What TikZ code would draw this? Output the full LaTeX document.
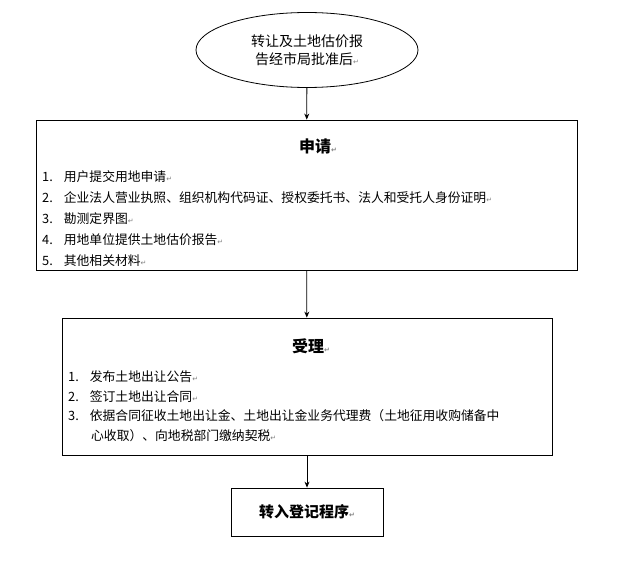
\documentclass[tikz,border=0pt]{standalone}
\usepackage{fontspec}
\setmainfont{Noto Sans CJK SC}
\newfontfamily\symfont{DejaVu Sans}
\usetikzlibrary{shapes.geometric,arrows.meta}
\newcommand{\pmark}{{\symfont\color{gray}\fontsize{7}{7}\selectfont ↵}}
\tikzset{
  stepbox/.style={draw,thick,inner sep=0pt},
  item/.style={anchor=west,inner sep=0pt,font=\fontsize{12.8}{12.8}\selectfont},
  title/.style={inner sep=0pt,font=\bfseries\fontsize{16}{16}\selectfont},
  link/.style={-{Stealth[length=6pt,width=5pt]},thick}
}
\begin{document}
\begin{tikzpicture}[x=1pt,y=-1pt]
 \useasboundingbox (0,0) rectangle (633,567);

 % start
 \node [draw,ellipse,thick,minimum width=222,minimum height=75,align=center,
        font=\fontsize{14}{18}\selectfont] (start) at (307,50)
       {转让及土地估价报\\告经市局批准后\pmark};

 % apply
 \node [stepbox,minimum width=541,minimum height=150] (apply) at (306.5,195) {};
 \node [title] (applyT) at (318,146) {申请\pmark};
 \node [item] (a1) at (42,177) {1.\hspace{11pt}用户提交用地申请\pmark};
 \node [item] (a2) at (42,198) {2.\hspace{11pt}企业法人营业执照、组织机构代码证、授权委托书、法人和受托人身份证明\pmark};
 \node [item] (a3) at (42,219) {3.\hspace{11pt}勘测定界图\pmark};
 \node [item] (a4) at (42,240) {4.\hspace{11pt}用地单位提供土地估价报告\pmark};
 \node [item] (a5) at (42,261) {5.\hspace{11pt}其他相关材料\pmark};

 % accept
 \node [stepbox,minimum width=490,minimum height=137] (accept) at (307,386.5) {};
 \node [title] (acceptT) at (311,346) {受理\pmark};
 \node [item] (b1) at (68,377) {1.\hspace{11pt}发布土地出让公告\pmark};
 \node [item] (b2) at (68,397) {2.\hspace{11pt}签订土地出让合同\pmark};
 \node [item,anchor=north west,text width=480,align=left,
        font=\fontsize{12.8}{20}\selectfont] (b3) at (68,409)
       {3.\hspace{11pt}依据合同征收土地出让金、土地出让金业务代理费（土地征用收购储备中\\\hspace*{23pt}心收取）、向地税部门缴纳契税\pmark};

 % register
 \node [stepbox,minimum width=152,minimum height=48,font=\bfseries\fontsize{15}{15}\selectfont]
       (reg) at (307,512) {转入登记程序\pmark};

 \draw [link] (start) -- (apply);
 \draw [link] (apply) -- (accept);
 \draw [link] (accept) -- (reg);
\end{tikzpicture}
\end{document}
